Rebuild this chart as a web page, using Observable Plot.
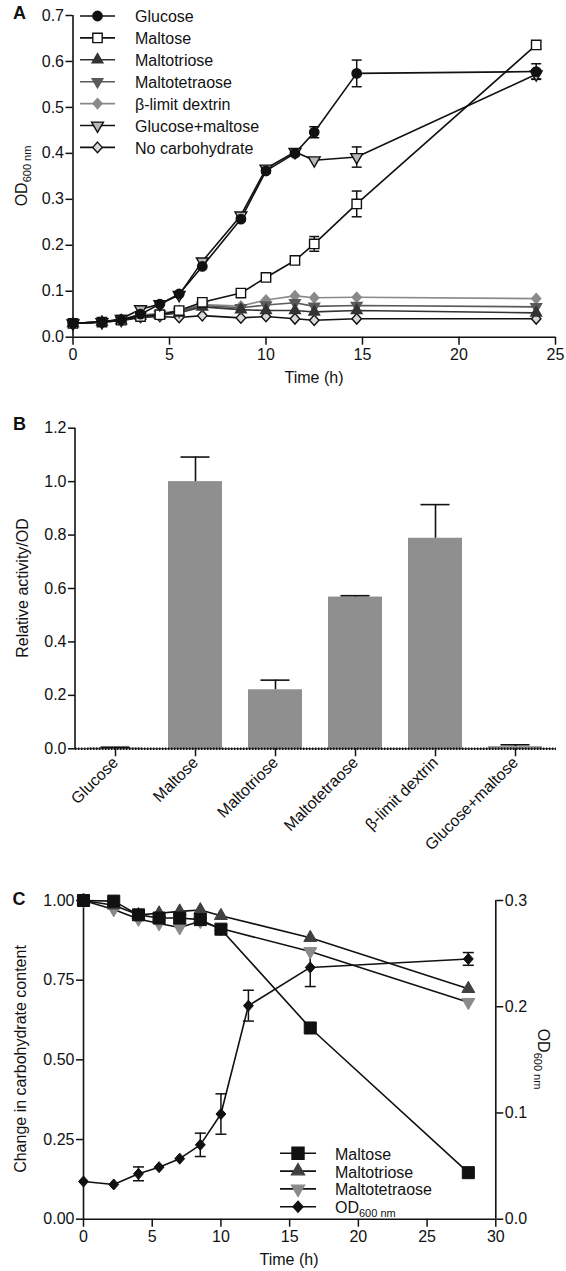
<!DOCTYPE html>
<html><head><meta charset="utf-8">
<script src="https://cdn.jsdelivr.net/npm/d3@7"></script>
<script src="https://cdn.jsdelivr.net/npm/@observablehq/plot@0.6"></script>
<style>
body{margin:0;background:#fff;}
#wrap{position:relative;width:566px;height:1271px;overflow:hidden;background:#fff;}
#wrap svg{position:absolute;left:0;}
</style></head><body><div id="wrap"></div>
<script>
// ================= DATA =================
// Panel A : growth curves (OD600 nm vs time, h)
const timeA = [0, 1.5, 2.5, 3.5, 4.5, 5.5, 6.7, 8.7, 10, 11.5, 12.5, 14.7, 24];
const seriesA = ["Glucose", "Maltose", "Maltotriose", "Maltotetraose", "β-limit dextrin", "Glucose+maltose", "No carbohydrate"];
const glucoseA       = [0.030, 0.033, 0.038, 0.050, 0.072, 0.094, 0.154, 0.257, 0.362, 0.400, 0.446, 0.574, 0.578];
const maltoseA       = [0.030, 0.033, 0.037, 0.045, 0.049, 0.058, 0.076, 0.096, 0.130, 0.167, 0.203, 0.290, 0.636];
const maltotrioseA   = [0.030, 0.033, 0.036, 0.046, 0.048, 0.053, 0.066, 0.060, 0.058, 0.058, 0.055, 0.058, 0.053];
const maltotetraoseA = [0.030, 0.033, 0.036, 0.047, 0.050, 0.056, 0.069, 0.064, 0.070, 0.075, 0.067, 0.069, 0.066];
const dextrinA       = [0.030, 0.033, 0.037, 0.048, 0.052, 0.058, 0.071, 0.068, 0.081, 0.090, 0.086, 0.087, 0.084];
const glcMalA        = [0.030, 0.033, 0.040, 0.061, 0.072, 0.092, 0.165, 0.265, 0.367, 0.403, 0.385, 0.392, 0.572];
const noCarbA        = [0.030, 0.033, 0.036, 0.043, 0.045, 0.043, 0.047, 0.042, 0.045, 0.040, 0.037, 0.040, 0.040];
const glucoseErrA    = [0, 0, 0, 0, 0, 0, 0, 0.004, 0.005, 0.005, 0.012, 0.029, 0.017];
const maltoseErrA    = [0, 0, 0, 0, 0, 0, 0, 0, 0, 0, 0.016, 0.028, 0.008];
const glcMalErrA     = [0, 0, 0, 0, 0, 0, 0, 0, 0, 0, 0, 0.022, 0.010];
const xTicksA = [0, 5, 10, 15, 20, 25];
const yTicksA = [0, 0.1, 0.2, 0.3, 0.4, 0.5, 0.6, 0.7];

// Panel B : relative activity / OD
const categoriesB = ["Glucose", "Maltose", "Maltotriose", "Maltotetraose", "β-limit dextrin", "Glucose+maltose"];
const activityB    = [0.003, 1.000, 0.221, 0.568, 0.788, 0.008];
const activityErrB = [0.003, 0.092, 0.036, 0.005, 0.126, 0.007];
const yTicksB = [0, 0.2, 0.4, 0.6, 0.8, 1.0, 1.2];

// Panel C : carbohydrate consumption + OD
const timeC = [0, 2.2, 4, 5.5, 7, 8.5, 10, 16.5, 28];
const maltoseC       = [1.000, 0.998, 0.955, 0.945, 0.945, 0.940, 0.910, 0.600, 0.146];
const maltotrioseC   = [1.000, 0.985, 0.955, 0.960, 0.966, 0.970, 0.952, 0.883, 0.723];
const maltotetraoseC = [1.000, 0.972, 0.942, 0.928, 0.915, 0.935, 0.912, 0.840, 0.681];
const timeOD = [0, 2.2, 4, 5.5, 7, 8.5, 10, 12, 16.5, 28];
const odC    = [0.0355, 0.0327, 0.0427, 0.049, 0.057, 0.070, 0.099, 0.201, 0.237, 0.245];
const odErrC = [0, 0, 0.0065, 0, 0, 0.011, 0.019, 0.0145, 0.018, 0.006];
const xTicksC = [0, 5, 10, 15, 20, 25, 30];
const yTicksC = [0, 0.25, 0.5, 0.75, 1.0];
const odTicksC = [0, 0.1, 0.2, 0.3];
const odMaxC = 0.3;

// ================= HELPERS =================
const FONT = '"Liberation Sans", Arial, Helvetica, sans-serif';
const INK = "#111";
const sqrt3 = Math.sqrt(3);
const triangleDown = {draw(ctx, size) {
  const y = -Math.sqrt(size / (sqrt3 * 3));
  ctx.moveTo(0, -y * 2); ctx.lineTo(-sqrt3 * y, y); ctx.lineTo(sqrt3 * y, y); ctx.closePath();
}};
const diamond = {draw(ctx, size) {
  const r = Math.sqrt(size / 2);
  ctx.moveTo(0, -r); ctx.lineTo(r * 0.9, 0); ctx.lineTo(0, r); ctx.lineTo(-r * 0.9, 0); ctx.closePath();
}};
const cap = w => ({draw(ctx) { ctx.moveTo(-w / 2, 0); ctx.lineTo(w / 2, 0); }});
const baseStyle = {fontFamily: FONT, fontSize: "16px", color: INK, background: "transparent", overflow: "visible"};
const wrap = document.getElementById("wrap");

function place(svg, top) { svg.style.top = top + "px"; wrap.appendChild(svg); return d3.select(svg); }

function addText(g, x, y, main, sub, o = {}) {
  const t = g.append("text").attr("x", x).attr("y", y)
    .attr("font-family", FONT).attr("font-size", o.size || 16).attr("fill", INK)
    .attr("text-anchor", o.anchor || "start");
  if (o.transform) t.attr("transform", o.transform);
  if (o.weight) t.attr("font-weight", o.weight);
  if (o.dy) t.attr("dy", o.dy);
  t.append("tspan").text(main);
  if (sub) t.append("tspan").attr("font-size", o.subSize || 11).attr("dy", 4).text(sub);
  return t;
}

function addLegend(g, items, o) {
  items.forEach((it, i) => {
    const y = o.y0 + i * o.dy;
    g.append("line").attr("x1", o.x0).attr("x2", o.x1).attr("y1", y).attr("y2", y)
      .attr("stroke", it.line).attr("stroke-width", 1.6);
    g.append("path").attr("transform", `translate(${o.xm},${y})`)
      .attr("d", d3.symbol(it.symbol, Math.PI * it.r * it.r)())
      .attr("fill", it.fill).attr("stroke", it.stroke).attr("stroke-width", 1.4);
    addText(g, o.xt, y, it.label, it.sub, {dy: "0.4em"});
  });
}

// ================= PANEL A =================
const valuesA = {"Glucose": glucoseA, "Maltose": maltoseA, "Maltotriose": maltotrioseA, "Maltotetraose": maltotetraoseA,
  "β-limit dextrin": dextrinA, "Glucose+maltose": glcMalA, "No carbohydrate": noCarbA};
const errA = {"Glucose": glucoseErrA, "Maltose": maltoseErrA, "Glucose+maltose": glcMalErrA};
const styleA = {
  "Glucose":         {symbol: d3.symbolCircle, r: 4.7, fill: INK, stroke: INK, line: INK},
  "Maltose":         {symbol: d3.symbolSquare, r: 5.3, fill: "#fff", stroke: INK, line: INK},
  "Maltotriose":     {symbol: d3.symbolTriangle, r: 4.0, fill: "#333", stroke: "#333", line: "#333"},
  "Maltotetraose":   {symbol: triangleDown, r: 4.0, fill: "#5a5a5a", stroke: "#5a5a5a", line: "#5a5a5a"},
  "β-limit dextrin": {symbol: diamond, r: 4.0, fill: "#8a8a8a", stroke: "#8a8a8a", line: "#8a8a8a"},
  "Glucose+maltose": {symbol: triangleDown, r: 4.4, fill: "#b8b8b8", stroke: INK, line: INK},
  "No carbohydrate": {symbol: diamond, r: 4.2, fill: "#d8d8d8", stroke: INK, line: INK}
};
const rowsA = seriesA.flatMap(name => timeA.map((t, i) => ({name, t, v: valuesA[name][i], e: errA[name] ? errA[name][i] : 0})));
const orderA = ["No carbohydrate", "β-limit dextrin", "Maltotetraose", "Maltotriose", "Maltose", "Glucose+maltose", "Glucose"];
const errRowsA = rowsA.filter(d => d.e > 0);

const marksA = [
  Plot.ruleX([0], {stroke: INK, strokeWidth: 1.6}),
  Plot.ruleY([0], {stroke: INK, strokeWidth: 1.6}),
  Plot.axisX({ticks: xTicksA, tickSize: 8, tickPadding: 3, strokeWidth: 1.5, label: null}),
  Plot.axisY({ticks: yTicksA, tickFormat: ".1f", tickSize: 7, tickPadding: 2, strokeWidth: 1.5, label: null})
];
for (const name of orderA) {
  const s = styleA[name];
  marksA.push(Plot.line(rowsA.filter(d => d.name === name), {x: "t", y: "v", stroke: s.line, strokeWidth: 1.6}));
}
marksA.push(
  Plot.ruleX(errRowsA, {x: "t", y1: d => d.v - d.e, y2: d => d.v + d.e, stroke: INK, strokeWidth: 1.5}),
  Plot.dot(errRowsA, {x: "t", y: d => d.v + d.e, symbol: cap(10), r: 2, stroke: INK, strokeWidth: 1.5}),
  Plot.dot(errRowsA, {x: "t", y: d => d.v - d.e, symbol: cap(10), r: 2, stroke: INK, strokeWidth: 1.5})
);
for (const name of orderA) {
  const s = styleA[name];
  marksA.push(Plot.dot(rowsA.filter(d => d.name === name), {x: "t", y: "v", symbol: s.symbol, r: s.r, fill: s.fill, stroke: s.stroke, strokeWidth: 1.4}));
}
const plotA = Plot.plot({
  width: 566, height: 400, marginTop: 15, marginRight: 11, marginBottom: 63.3, marginLeft: 72.5,
  style: baseStyle, x: {domain: [0, 25]}, y: {domain: [0, 0.7]}, marks: marksA
});
const gA = place(plotA, 0).append("g");
addText(gA, 13, 19, "A", null, {size: 18, weight: "bold"});
addText(gA, 0, 0, "OD", "600 nm", {anchor: "middle", transform: "translate(27,176) rotate(-90)"});
addText(gA, 314, 383, "Time (h)", null, {anchor: "middle"});
addLegend(gA, seriesA.map(n => ({label: n, ...styleA[n]})), {y0: 16, dy: 21.9, x0: 80, x1: 115, xm: 97.5, xt: 135});

// ================= PANEL B =================
const rowsB = categoriesB.map((c, i) => ({c, v: activityB[i], e: activityErrB[i]}));
const plotB = Plot.plot({
  width: 566, height: 470, marginTop: 27.7, marginRight: 10, marginBottom: 121.7, marginLeft: 75,
  style: baseStyle,
  x: {domain: categoriesB, paddingInner: 0.32, paddingOuter: 0.16},
  y: {domain: [0, 1.2]},
  marks: [
    Plot.barY(rowsB, {x: "c", y: "v", fill: "#8f8f8f"}),
    Plot.ruleX(rowsB, {x: "c", y1: "v", y2: d => d.v + d.e, stroke: INK, strokeWidth: 1.6}),
    Plot.tickY(rowsB, {x: "c", y: d => d.v + d.e, stroke: INK, strokeWidth: 1.6, inset: 12.5}),
    Plot.ruleY([0], {stroke: INK, strokeWidth: 1}),
    Plot.ruleY([0], {stroke: INK, strokeWidth: 2.6, strokeDasharray: "1.4,1.6"}),
    Plot.axisX({tickRotate: -45, tickSize: 8, tickPadding: 3, strokeWidth: 1.5, label: null}),
    Plot.axisY({ticks: yTicksB, tickFormat: ".1f", tickSize: 7, tickPadding: 2, strokeWidth: 1.5, label: null})
  ]
});
const svgB = place(plotB, 400);
const yB = plotB.scale("y").range;
svgB.append("line").attr("x1", 75).attr("x2", 75).attr("y1", yB[0]).attr("y2", yB[1]).attr("stroke", INK).attr("stroke-width", 1.6);
const gB = svgB.append("g");
addText(gB, 13, 30, "B", null, {size: 18, weight: "bold"});
addText(gB, 0, 0, "Relative activity/OD", null, {anchor: "middle", transform: "translate(28,188) rotate(-90)"});

// ================= PANEL C =================
const carbSeriesC = [
  {label: "Maltose", values: maltoseC, symbol: d3.symbolSquare, r: 6.8, fill: INK, stroke: INK, line: INK},
  {label: "Maltotriose", values: maltotrioseC, symbol: d3.symbolTriangle, r: 4.8, fill: "#404040", stroke: "#404040", line: INK},
  {label: "Maltotetraose", values: maltotetraoseC, symbol: triangleDown, r: 4.8, fill: "#8a8a8a", stroke: "#8a8a8a", line: INK}
];
const odStyleC = {label: "OD", sub: "600 nm", symbol: diamond, r: 4.4, fill: INK, stroke: INK, line: INK};
const rowsC = carbSeriesC.flatMap(s => timeC.map((t, i) => ({name: s.label, t, v: s.values[i]})));
const rowsOD = timeOD.map((t, i) => ({t, v: odC[i], e: odErrC[i]}));
const errRowsOD = rowsOD.filter(d => d.e > 0);
const yOD = v => v / odMaxC; // right axis mapped onto left scale
const marksC = [
  Plot.ruleX([0], {stroke: INK, strokeWidth: 1.6}),
  Plot.ruleX([30], {stroke: INK, strokeWidth: 1.6}),
  Plot.ruleY([0], {stroke: INK, strokeWidth: 1.6}),
  Plot.axisX({ticks: xTicksC, tickSize: 8, tickPadding: 3, strokeWidth: 1.5, label: null}),
  Plot.axisY({ticks: yTicksC, tickFormat: ".2f", tickSize: 7, tickPadding: 2, strokeWidth: 1.5, label: null}),
  Plot.axisY({anchor: "right", ticks: odTicksC.map(yOD), tickFormat: v => d3.format(".1f")(v * odMaxC), tickSize: 7, tickPadding: 2, strokeWidth: 1.5, label: null})
];
for (const s of [...carbSeriesC].reverse()) {
  marksC.push(Plot.line(rowsC.filter(d => d.name === s.label), {x: "t", y: "v", stroke: s.line, strokeWidth: 1.6}));
}
marksC.push(
  Plot.line(rowsOD, {x: "t", y: d => yOD(d.v), stroke: INK, strokeWidth: 1.6}),
  Plot.ruleX(errRowsOD, {x: "t", y1: d => yOD(d.v - d.e), y2: d => yOD(d.v + d.e), stroke: INK, strokeWidth: 1.5}),
  Plot.dot(errRowsOD, {x: "t", y: d => yOD(d.v + d.e), symbol: cap(11), r: 2, stroke: INK, strokeWidth: 1.5}),
  Plot.dot(errRowsOD, {x: "t", y: d => yOD(d.v - d.e), symbol: cap(11), r: 2, stroke: INK, strokeWidth: 1.5})
);
for (const s of [...carbSeriesC].reverse()) {
  marksC.push(Plot.dot(rowsC.filter(d => d.name === s.label), {x: "t", y: "v", symbol: s.symbol, r: s.r, fill: s.fill, stroke: s.stroke, strokeWidth: 1}));
}
marksC.push(Plot.dot(rowsOD, {x: "t", y: d => yOD(d.v), symbol: odStyleC.symbol, r: odStyleC.r, fill: INK, stroke: INK, strokeWidth: 1}));
const plotC = Plot.plot({
  width: 566, height: 401, marginTop: 30, marginRight: 70.7, marginBottom: 52.3, marginLeft: 83,
  style: baseStyle, x: {domain: [0, 30]}, y: {domain: [0, 1]}, marks: marksC
});
const gC = place(plotC, 870).append("g");
addText(gC, 12.5, 35, "C", null, {size: 18, weight: "bold"});
addText(gC, 0, 0, "Change in carbohydrate content", null, {anchor: "middle", transform: "translate(26,189) rotate(-90)"});
addText(gC, 0, 0, "OD", "600 nm", {anchor: "middle", transform: "translate(538,189) rotate(90)"});
addText(gC, 289, 394.5, "Time (h)", null, {anchor: "middle"});
addLegend(gC, [...carbSeriesC, odStyleC], {y0: 283.3, dy: 17.8, x0: 280, x1: 316, xm: 298, xt: 335});
</script>
</body></html>
